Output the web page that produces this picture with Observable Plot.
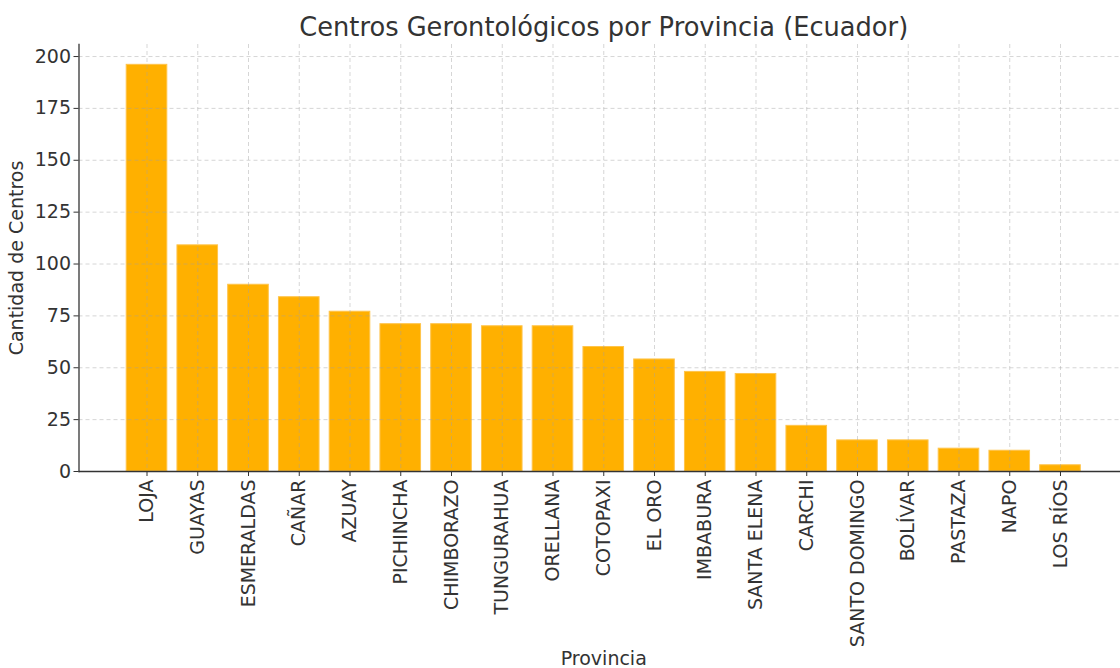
<!DOCTYPE html>
<html>
<head>
<meta charset="utf-8">
<script src="https://cdn.jsdelivr.net/npm/d3@7"></script>
<script src="https://cdn.jsdelivr.net/npm/@observablehq/plot@0.6"></script>
<style>
  html, body { margin: 0; padding: 0; background: white; overflow: hidden; width: 1120px; height: 668px; }
  #chart { width: 1120px; height: 668px; overflow: hidden; }
  svg { display: block; max-width: none !important; width: 1128px !important; height: 668px !important; }
  svg text { font-family: "DejaVu Sans", sans-serif; }
</style>
</head>
<body>
<div id="chart"></div>
<script>
const provincias = ["LOJA","GUAYAS","ESMERALDAS","CAÑAR","AZUAY","PICHINCHA","CHIMBORAZO","TUNGURAHUA","ORELLANA","COTOPAXI","EL ORO","IMBABURA","SANTA ELENA","CARCHI","SANTO DOMINGO","BOLÍVAR","PASTAZA","NAPO","LOS RÍOS"];
const centros = [196,109,90,84,77,71,71,70,70,60,54,48,47,22,15,15,11,10,3];
const yTicks = [0,25,50,75,100,125,150,175,200];
const titulo = "Centros Gerontológicos por Provincia (Ecuador)";

const data = provincias.map((p, i) => ({provincia: p, centros: centros[i]}));
const textColor = "#333333";
const gridStyle = {stroke: "#a0a0a0", strokeOpacity: 0.55, strokeDasharray: "4,3", strokeWidth: 0.8};

const chart = Plot.plot({
  width: 1128,
  height: 668,
  marginTop: 44,
  marginBottom: 197,
  marginLeft: 78.5,
  marginRight: 0,
  style: {fontFamily: "DejaVu Sans", fontSize: "16px", color: textColor, background: "white", maxWidth: "none"},
  x: {domain: provincias, paddingInner: 0.2, paddingOuter: 0.94, round: false, label: null},
  y: {domain: [0, 205.8], label: null},
  marks: [
    Plot.barY(data, {x: "provincia", y: "centros", fill: "#FFB000", stroke: "#FFC44A", strokeWidth: 1}),
    Plot.gridY(yTicks, gridStyle),
    Plot.gridX(provincias, gridStyle),
    Plot.axisY({ticks: yTicks, tickSize: 5, tickPadding: 3, fontSize: 19, label: "Cantidad de Centros", labelArrow: "none", labelAnchor: "center", labelOffset: 70}),
    Plot.axisX({tickRotate: -90, tickSize: 5, tickPadding: 3, fontSize: 19, label: "Provincia", labelArrow: "none", labelAnchor: "center", labelOffset: 193}),
    Plot.ruleY([0], {stroke: textColor, strokeWidth: 1.3}),
    Plot.frame({anchor: "left", stroke: textColor, strokeWidth: 1.3}),
    Plot.text([titulo], {frameAnchor: "top", dy: -27, fontSize: 25.7, fill: textColor})
  ]
});
document.getElementById("chart").appendChild(chart);
</script>
</body>
</html>
